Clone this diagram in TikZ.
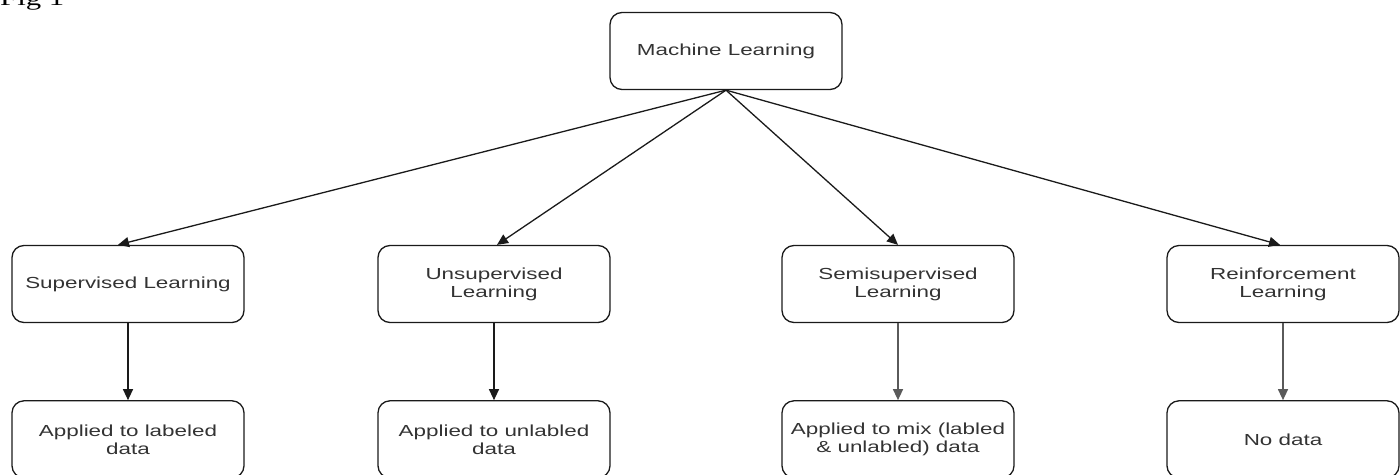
\documentclass[tikz,border=0pt]{standalone}
\usepackage{fontspec}
\setmainfont{Liberation Sans}[FakeStretch=1.4]
\newfontfamily\figfont{Liberation Serif}[FakeStretch=1.4]
\usepackage{xcolor}
\usetikzlibrary{arrows.meta,positioning}
\definecolor{mltext}{HTML}{333333}
\definecolor{mlline}{HTML}{1A1A1A}
\definecolor{mlgray}{HTML}{5A5A5A}

\begin{document}
\begin{tikzpicture}[
    x=1pt, y=1pt,
    node distance=77pt and 0pt,
    box/.style={draw=mlline, line width=1.3pt, rounded corners=12pt, align=center,
      minimum width=232pt, minimum height=77pt, inner sep=0pt, text=mltext,
      font=\fontsize{16}{18}\selectfont},
    arrow/.style={-{Triangle[length=11pt,width=10pt]}, line width=1.3pt, draw=mlline},
    grayarrow/.style={arrow, draw=mlgray}
  ]
    \useasboundingbox (0,0) rectangle (1400,-474);
    \node[anchor=base west, inner sep=0pt, font=\figfont\fontsize{22}{24}\selectfont] (fig) at (0,-5) {Fig 1};

    \node[box] (ml) at (726,-51) {Machine Learning};
    \node[box] (sup) at (128,-284) {Supervised Learning};
    \node[box] (unsup) at (494,-284) {Unsupervised\\Learning};
    \node[box] (semi) at (898,-284) {Semisupervised\\Learning};
    \node[box] (reinf) at (1283,-284) {Reinforcement\\Learning};
    \node[box, below=of sup] (labeled) {Applied to labeled\\data};
    \node[box, below=of unsup] (unlabeled) {Applied to unlabled\\data};
    \node[box, below=of semi] (mixed) {Applied to mix (labled\\\& unlabled) data};
    \node[box, below=of reinf] (nodata) {No data};

    \draw[arrow] (ml.south) -- ([xshift=-10pt]sup.north);
    \draw[arrow] (ml.south) -- ([xshift=3pt]unsup.north);
    \draw[arrow] (ml.south) -- (semi.north);
    \draw[arrow] (ml.south) -- ([xshift=-3pt]reinf.north);
    \draw[arrow] (sup) -- (labeled);
    \draw[arrow] (unsup) -- (unlabeled);
    \draw[grayarrow] (semi) -- (mixed);
    \draw[grayarrow] (reinf) -- (nodata);
  \end{tikzpicture}
\end{document}
